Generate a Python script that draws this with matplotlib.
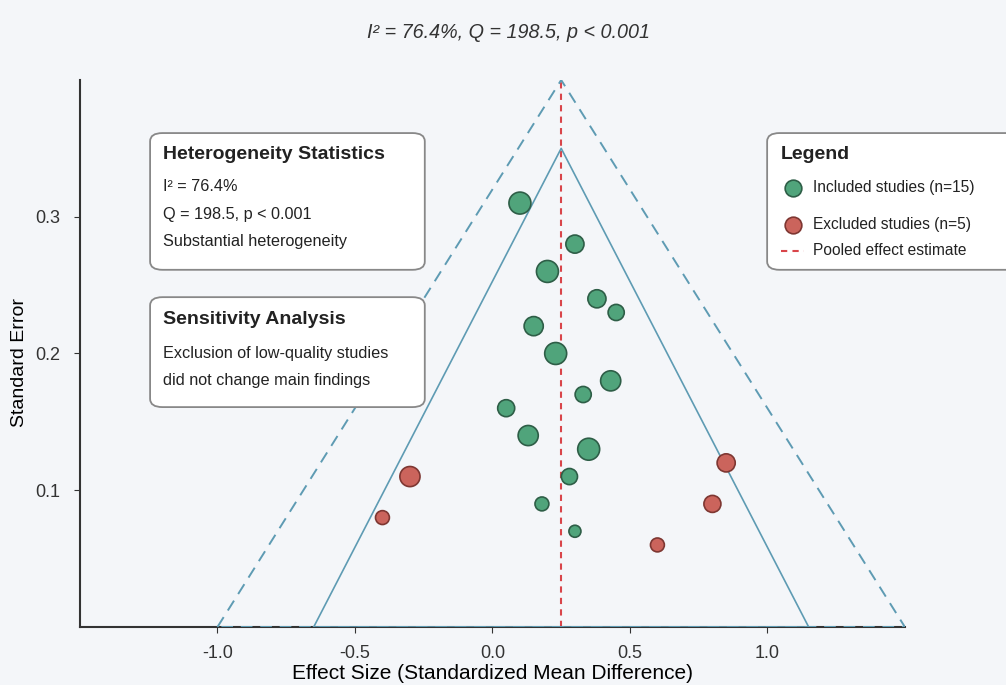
# Funnel plot with heterogeneity notes

import numpy as np
import matplotlib.pyplot as plt
from matplotlib.patches import FancyBboxPatch
from matplotlib.lines import Line2D

plt.rcParams['font.family'] = ['Liberation Sans', 'DejaVu Sans']
plt.rcParams['axes.unicode_minus'] = False

# data
inc_es = [0.10, 0.30, 0.20, 0.38, 0.45, 0.15, 0.23, 0.43, 0.33, 0.05, 0.13, 0.35, 0.28, 0.18, 0.30]
inc_se = [0.31, 0.28, 0.26, 0.24, 0.23, 0.22, 0.20, 0.18, 0.17, 0.16, 0.14, 0.13, 0.11, 0.09, 0.07]
inc_size = [250, 170, 250, 170, 135, 190, 250, 210, 135, 150, 210, 250, 135, 100, 75]

exc_es = [-0.30, -0.40, 0.85, 0.80, 0.60]
exc_se = [0.11, 0.08, 0.12, 0.09, 0.06]
exc_size = [210, 100, 170, 150, 100]

pooled = 0.25
outer_apex, outer_half = 0.40, 1.25
inner_apex, inner_half = 0.35, 0.90

labels = ['Included studies (n=15)', 'Excluded studies (n=5)', 'Pooled effect estimate']

bg = '#f4f6f9'
green, green_e = '#50a47b', '#2e5e47'
red, red_e = '#cb645c', '#7e3732'
funnel_c = '#5e9bb3'
pool_c = '#d9454a'

fig = plt.figure(figsize=(10.06, 6.85), dpi=100, facecolor=bg)
ax = fig.add_axes([0.0795, 0.0847, 0.82, 0.7985])
ax.set_facecolor(bg)

# funnels
ax.plot([pooled - outer_half, pooled, pooled + outer_half, pooled - outer_half],
        [0, outer_apex, 0, 0], ls=(0, (6, 4)), color=funnel_c, lw=1.4, zorder=3)
ax.plot([pooled - inner_half, pooled, pooled + inner_half, pooled - inner_half],
        [0, inner_apex, 0, 0], ls='-', color=funnel_c, lw=1.2, zorder=3)
ax.plot([pooled, pooled], [0, outer_apex], ls=(0, (3, 2.5)), color=pool_c, lw=1.5, zorder=2)

ax.scatter(inc_es, inc_se, s=inc_size, c=green, edgecolors=green_e, linewidths=1.2, zorder=4)
ax.scatter(exc_es, exc_se, s=exc_size, c=red, edgecolors=red_e, linewidths=1.2, zorder=4)

ax.set_xlim(-1.5, 1.5)
ax.set_ylim(0, 0.4)
ax.set_xticks([-1.0, -0.5, 0.0, 0.5, 1.0])
ax.set_yticks([0.1, 0.2, 0.3])
ax.tick_params(labelsize=13, colors='#333333', length=4)
ax.tick_params(axis='x', pad=9)
ax.tick_params(axis='y', pad=10)
for s in ['top', 'right']:
    ax.spines[s].set_visible(False)
for s in ['left', 'bottom']:
    ax.spines[s].set_color('#333333')
    ax.spines[s].set_linewidth(1.5)
ax.set_xlabel('Effect Size (Standardized Mean Difference)', fontsize=15)
ax.xaxis.set_label_coords(0.5, -0.068)
ax.set_ylabel('Standard Error', fontsize=14)
ax.yaxis.set_label_coords(-0.063, 0.484)

fig.text(0.505, 0.953, 'I² = 76.4%, Q = 198.5, p < 0.001', ha='center', va='center',
         fontsize=14.2, style='italic', color='#333333')


def box(x0, y0, x1, y1):
    ax.add_patch(FancyBboxPatch((x0, y0), x1 - x0, y1 - y0, boxstyle='round,pad=0,rounding_size=0.015',
                                transform=ax.transAxes, fc='white', ec='#888888', lw=1.3,
                                zorder=5, clip_on=False))


def txt(x, y, s, **kw):
    ax.text(x, y, s, transform=ax.transAxes, va='center', zorder=6, color='#222222', **kw)


box(0.085, 0.653, 0.418, 0.903)
txt(0.101, 0.863, 'Heterogeneity Statistics', fontsize=14, fontweight='bold')
for t, yy in [('I² = 76.4%', 0.805), ('Q = 198.5, p < 0.001', 0.755), ('Substantial heterogeneity', 0.704)]:
    txt(0.101, yy, t, fontsize=11.7)

box(0.085, 0.402, 0.418, 0.603)
txt(0.101, 0.562, 'Sensitivity Analysis', fontsize=14, fontweight='bold')
txt(0.101, 0.500, 'Exclusion of low-quality studies', fontsize=11.7)
txt(0.101, 0.451, 'did not change main findings', fontsize=11.7)

# legend box
box(0.833, 0.653, 1.14, 0.903)
txt(0.849, 0.863, 'Legend', fontsize=14, fontweight='bold')
leg_y = [0.803, 0.735, 0.688]
ax.add_line(Line2D([0.864], [leg_y[0]], marker='o', ls='', ms=12, mfc=green, mec=green_e, mew=1.2,
                   transform=ax.transAxes, zorder=6, clip_on=False))
ax.add_line(Line2D([0.864], [leg_y[1]], marker='o', ls='', ms=12, mfc=red, mec=red_e, mew=1.2,
                   transform=ax.transAxes, zorder=6, clip_on=False))
ax.add_line(Line2D([0.850, 0.878], [leg_y[2], leg_y[2]], ls=(0, (3, 2.5)), color=pool_c, lw=1.5,
                   transform=ax.transAxes, zorder=6, clip_on=False))
for lab, yy in zip(labels, leg_y):
    txt(0.888, yy, lab, fontsize=11.2)

plt.savefig('out.png', dpi=100, facecolor=bg)
